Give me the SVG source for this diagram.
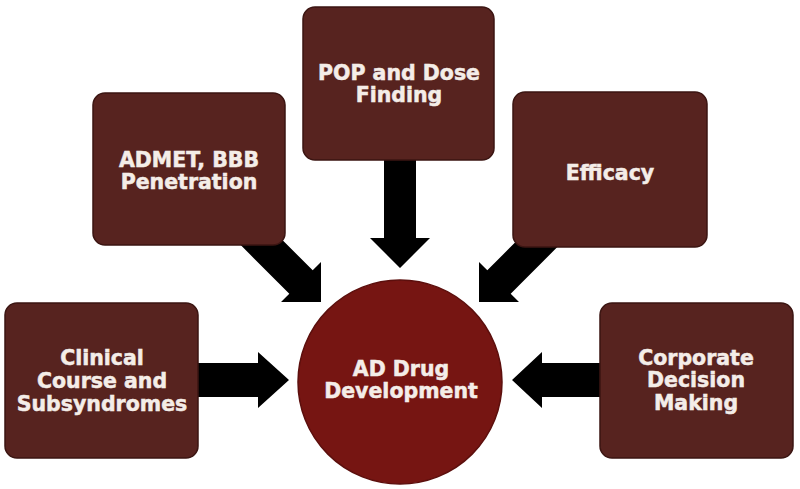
<svg xmlns="http://www.w3.org/2000/svg" width="800" height="489" viewBox="0 0 800 489">
<style>
.box{fill:#57231f;stroke:#3b1512;stroke-width:1.5}
.hub{fill:#761512;stroke:#5c0f0d;stroke-width:1.5}
.arrow{fill:#000}
.lbl{font-family:"DejaVu Sans",Verdana,sans-serif;font-weight:bold;font-size:20.5px;fill:#f4ede8;stroke:#f4ede8;stroke-width:0.5;text-anchor:middle}
</style>
<rect width="800" height="489" fill="#fff"/>
<g id="connectors">
<polygon class="arrow" points="190,363 258,363 258,352 289,380 258,408 258,397 190,397"/>
<polygon class="arrow" points="610,363 542,363 542,352 512,380 542,408 542,397 610,397"/>
<polygon class="arrow" points="384,150 416,150 416,238 430,238 400,268 370,238 384,238"/>
<polygon class="arrow" points="256.1,213.7 312.7,270.3 321,262 321,302 281,302 289.3,293.7 232.7,237.1"/>
<polygon class="arrow" points="543.9,213.7 487.3,270.3 479,262 479,302 519,302 510.7,293.7 567.3,237.1"/>
</g>
<g id="clinical">
<rect class="box" x="5" y="303" width="193" height="155" rx="12"/>
<text class="lbl" x="102" y="365">Clinical</text>
<text class="lbl" x="102" y="388">Course and</text>
<text class="lbl" x="102" y="411">Subsyndromes</text>
</g>
<g id="admet">
<rect class="box" x="93" y="93" width="192" height="152" rx="12"/>
<text class="lbl" x="189" y="167">ADMET, BBB</text>
<text class="lbl" x="189" y="189">Penetration</text>
</g>
<g id="pop">
<rect class="box" x="303" y="7" width="191" height="153" rx="12"/>
<text class="lbl" x="399" y="80">POP and Dose</text>
<text class="lbl" x="399" y="102">Finding</text>
</g>
<g id="efficacy">
<rect class="box" x="513" y="92" width="194" height="155" rx="12"/>
<text class="lbl" x="610" y="180">Efficacy</text>
</g>
<g id="corporate">
<rect class="box" x="600" y="303" width="193" height="155" rx="12"/>
<text class="lbl" x="696" y="365">Corporate</text>
<text class="lbl" x="696" y="387">Decision</text>
<text class="lbl" x="696" y="410">Making</text>
</g>
<g id="ad-drug-development">
<circle class="hub" cx="400" cy="382" r="102"/>
<text class="lbl" x="401" y="376">AD Drug</text>
<text class="lbl" x="401" y="398">Development</text>
</g>
</svg>
